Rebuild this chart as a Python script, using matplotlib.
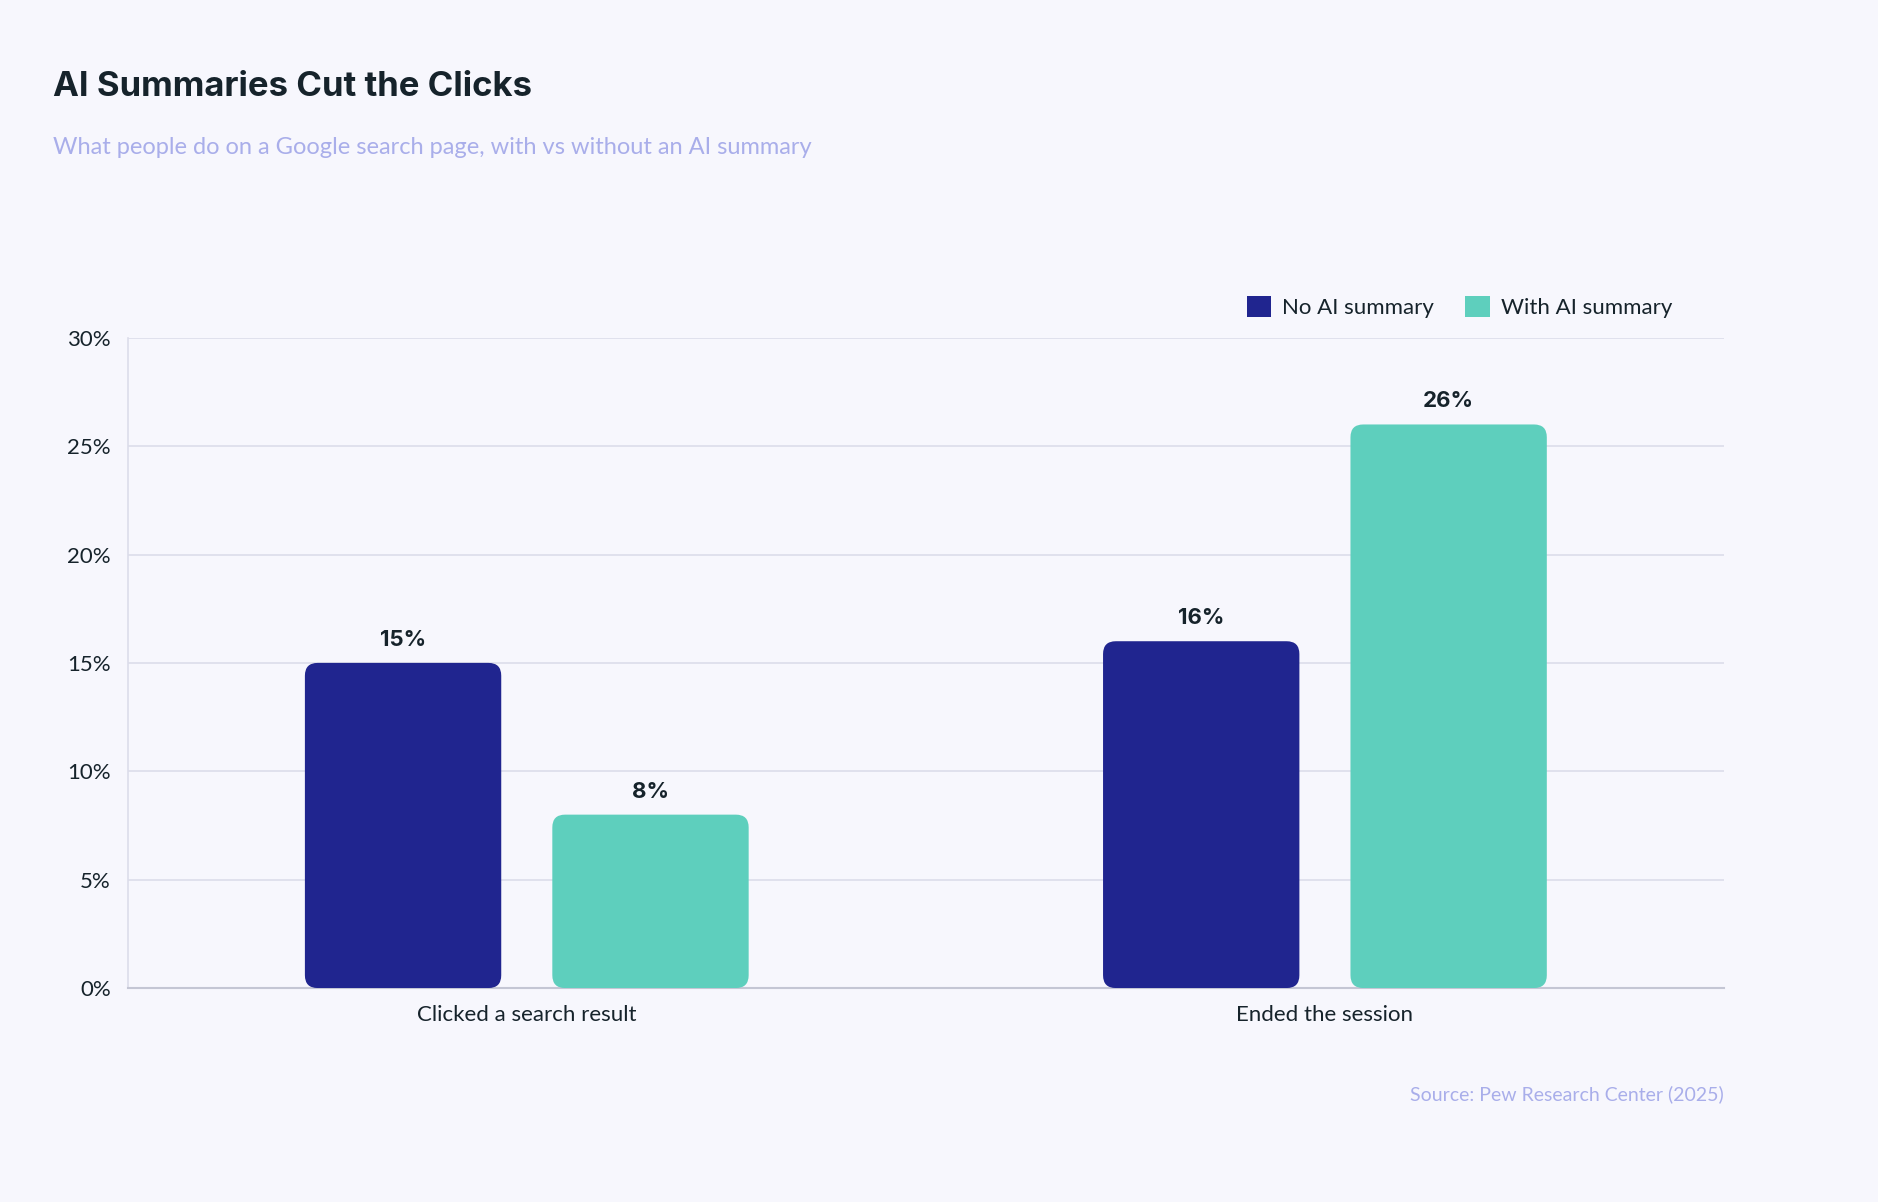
import matplotlib.pyplot as plt
from matplotlib.patches import FancyBboxPatch, Patch
import numpy as np

categories = ["Clicked a search result", "Ended the session"]
no_ai = [15, 16]
with_ai = [8, 26]
series_names = ["No AI summary", "With AI summary"]
colors = ["#20258F", "#5ECFBD"]
yticks = [0, 5, 10, 15, 20, 25, 30]

bg = "#F7F7FD"
txt = "#16232B"
plt.rcParams['font.family'] = ['Lato', 'DejaVu Sans']

fig = plt.figure(figsize=(18.78, 12.02), dpi=100, facecolor=bg)
ax = fig.add_axes([0.068, 0.178, 0.85, 0.541], facecolor=bg)

x = np.arange(len(categories))
w = 0.246
off = 0.155
aspect = (0.85 * 1878 / 2.0) / (0.541 * 1202 / 30.0)
for vals, dx, c in [(no_ai, -off, colors[0]), (with_ai, off, colors[1])]:
    for xi, v in zip(x, vals):
        p = FancyBboxPatch((xi + dx - w / 2, 0), w, v,
                           boxstyle="round,pad=0,rounding_size=0.016",
                           mutation_aspect=aspect, fc=c, ec="none", zorder=3)
        ax.add_patch(p)
        ax.text(xi + dx, v + 0.6, f"{v}%", ha="center", va="bottom",
                fontsize=16, fontweight="bold", color=txt,
                family=['Inter', 'DejaVu Sans'])

ax.set_xlim(-0.5, 1.5)
ax.set_ylim(0, 30)
ax.set_yticks(yticks)
ax.set_yticklabels([f"{t}%" for t in yticks], fontsize=16, color=txt)
ax.set_xticks(x)
ax.set_xticklabels(categories, fontsize=16, color=txt)
ax.tick_params(length=0, pad=12)
ax.grid(axis="y", color="#DCDDEA", lw=1.2, zorder=0)
for s in ["top", "right"]:
    ax.spines[s].set_visible(False)
ax.spines["left"].set_color("#DCDDEA")
ax.spines["bottom"].set_color("#C4C6D4")
ax.spines["left"].set_linewidth(1.2)
ax.spines["bottom"].set_linewidth(1.5)

handles = [Patch(fc=c, ec="none") for c in colors]
ax.legend(handles, series_names, loc="lower right", bbox_to_anchor=(0.98, 1.0),
          ncol=2, frameon=False, fontsize=16, handlelength=1.1, handleheight=1.1,
          columnspacing=1.4, handletextpad=0.5, labelcolor=txt)

fig.text(0.028, 0.92, "AI Summaries Cut the Clicks", fontsize=25, fontweight="bold",
         color=txt, family=['Inter', 'DejaVu Sans'])
fig.text(0.028, 0.872, "What people do on a Google search page, with vs without an AI summary",
         fontsize=17, color="#A9AEEA")
fig.text(0.918, 0.085, "Source: Pew Research Center (2025)", fontsize=14,
         color="#A9AEEA", ha="right")

fig.savefig("out.png", dpi=100, facecolor=bg)
